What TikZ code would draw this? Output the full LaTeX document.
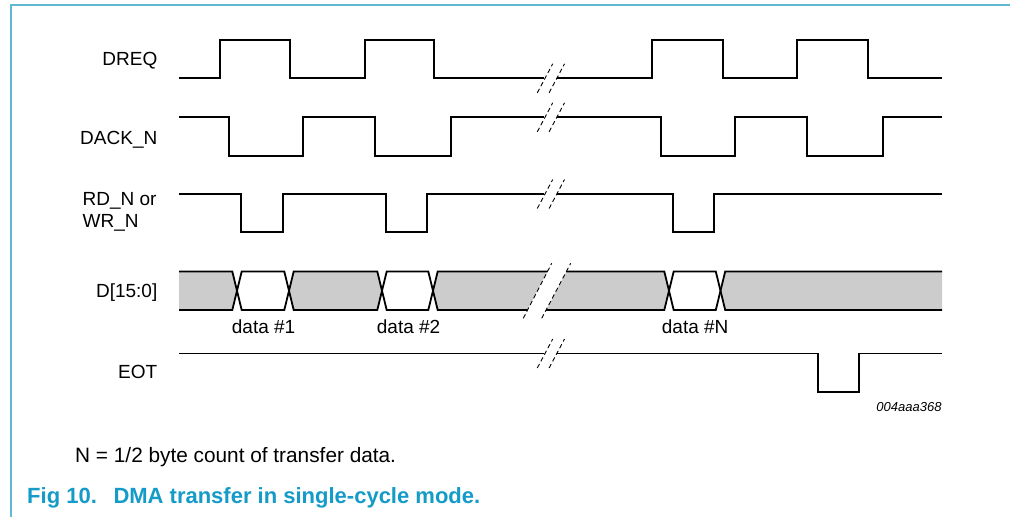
\documentclass[tikz,border=0pt]{standalone}
\usepackage{fontspec}
\setmainfont{Liberation Sans}
\definecolor{framec}{RGB}{95,185,212}
\definecolor{capc}{RGB}{20,155,200}
\definecolor{busgray}{RGB}{204,204,204}
\begin{document}
\begin{tikzpicture}[x=1pt,y=-1pt,
  sig/.style={line width=1.8pt, line join=miter},
  brk/.style={line width=0.9pt, dash pattern=on 4.5pt off 3pt},
  lbl/.style={inner sep=0pt, font=\fontsize{19}{22.3}\selectfont},
  txt/.style={inner sep=0pt}]
\useasboundingbox (0,0) rectangle (1010,517);
\fill[white] (0,0) rectangle (1010,517);
% frame
\draw[framec, line width=1.6pt] (11,520) -- (11,5) -- (1012,5);

% signal labels
\node[lbl, anchor=base east] (dreq) at (157.5,65) {DREQ};
\node[lbl, anchor=base east] (dack) at (157.5,144) {DACK\_N};
\node[lbl, anchor=base west] (rd1) at (82.5,205) {RD\_N or};
\node[lbl, anchor=base west] (rd2) at (82.5,227.3) {WR\_N};
\node[lbl, anchor=base east] (dbus) at (157.5,297) {D[15:0]};
\node[lbl, anchor=base east] (eot) at (157.5,378.5) {EOT};

% DREQ
\draw[sig] (179,78.3) -- (220,78.3) -- (220,40) -- (290.3,40) -- (290.3,78.3) -- (365,78.3) -- (365,40) -- (434,40) -- (434,78.3) -- (543.5,78.3);
\draw[sig] (557,78.3) -- (651.7,78.3) -- (651.7,40) -- (722.7,40) -- (722.7,78.3) -- (797,78.3) -- (797,40) -- (867.7,40) -- (867.7,78.3) -- (942,78.3);
% DACK_N
\draw[sig] (179,117.3) -- (229,117.3) -- (229,155.7) -- (303,155.7) -- (303,117.3) -- (375.3,117.3) -- (375.3,155.7) -- (450.7,155.7) -- (450.7,117.3) -- (543.5,117.3);
\draw[sig] (557,117.3) -- (660.7,117.3) -- (660.7,155.7) -- (735,155.7) -- (735,117.3) -- (807.3,117.3) -- (807.3,155.7) -- (882.7,155.7) -- (882.7,117.3) -- (942,117.3);
% RD_N / WR_N
\draw[sig] (179,194) -- (241,194) -- (241,232.3) -- (282.7,232.3) -- (282.7,194) -- (386,194) -- (386,232.3) -- (427,232.3) -- (427,194) -- (543.5,194);
\draw[sig] (557,194) -- (673,194) -- (673,232.3) -- (714,232.3) -- (714,194) -- (942,194);
% EOT
\draw[sig] (179,353.5) -- (543.5,353.5);
\draw[sig] (557,353.5) -- (818.3,353.5) -- (818.3,391.7) -- (859.3,391.7) -- (859.3,353.5) -- (942,353.5);

% data bus fills
\fill[busgray] (179,271.5) -- (232.3,271.5) -- (237,290.75) -- (232.3,310) -- (179,310) -- cycle;
\fill[busgray] (289,290.75) -- (293.7,271.5) -- (377.3,271.5) -- (382,290.75) -- (377.3,310) -- (293.7,310) -- cycle;
\fill[busgray] (433,290.75) -- (437.7,271.5) -- (664.3,271.5) -- (669,290.75) -- (664.3,310) -- (437.7,310) -- cycle;
\fill[busgray] (720.5,290.75) -- (725.2,271.5) -- (942,271.5) -- (942,310) -- (725.2,310) -- cycle;
\fill[white] (523.3,318.3) -- (551.7,263.3) -- (570.7,263.3) -- (541.7,318.3) -- cycle;
% data bus outlines
\draw[sig] (179,271.5) -- (232.3,271.5) -- (241.7,310) -- (284.3,310) -- (293.7,271.5) -- (377.3,271.5) -- (386.7,310) -- (428.3,310) -- (437.7,271.5) -- (547.5,271.5);
\draw[sig] (566.4,271.5) -- (664.3,271.5) -- (673.7,310) -- (715.8,310) -- (725.2,271.5) -- (942,271.5);
\draw[sig] (179,310) -- (232.3,310) -- (241.7,271.5) -- (284.3,271.5) -- (293.7,310) -- (377.3,310) -- (386.7,271.5) -- (428.3,271.5) -- (437.7,310) -- (527.6,310);
\draw[sig] (546.1,310) -- (664.3,310) -- (673.7,271.5) -- (715.8,271.5) -- (725.2,310) -- (942,310);
\draw[brk] (523.3,318.3) -- (551.7,263.3);
\draw[brk] (541.7,318.3) -- (570.7,263.3);

% break marks
\foreach \yy in {78.3,117.3,194,353.5}{
  \draw[brk] (537.3,\yy+14.5) -- (552.7,\yy-14.5);
  \draw[brk] (549.1,\yy+14.5) -- (564.5,\yy-14.5);
}

% data labels
\node[lbl, anchor=base west] (d1) at (231.7,333.5) {data \#1};
\node[lbl, anchor=base west] (d2) at (376.7,333.5) {data \#2};
\node[lbl, anchor=base west] (dn) at (661.7,333.5) {data \#N};

% figure id
\node[txt, anchor=base east, font=\fontsize{13}{15}\selectfont\itshape] (code) at (941.7,411) {004aaa368};

% note and caption
\node[txt, anchor=base west, font=\fontsize{20.8}{24}\selectfont] (note) at (75,462.7) {N = 1/2 byte count of transfer data.};
\node[txt, anchor=base west, font=\fontsize{22}{26}\selectfont\bfseries, text=capc] (cap1) at (27,503.3) {Fig 10.};
\node[txt, anchor=base west, font=\fontsize{22}{26}\selectfont\bfseries, text=capc] (cap2) at (113.3,503.3) {DMA transfer in single-cycle mode.};
\end{tikzpicture}
\end{document}
